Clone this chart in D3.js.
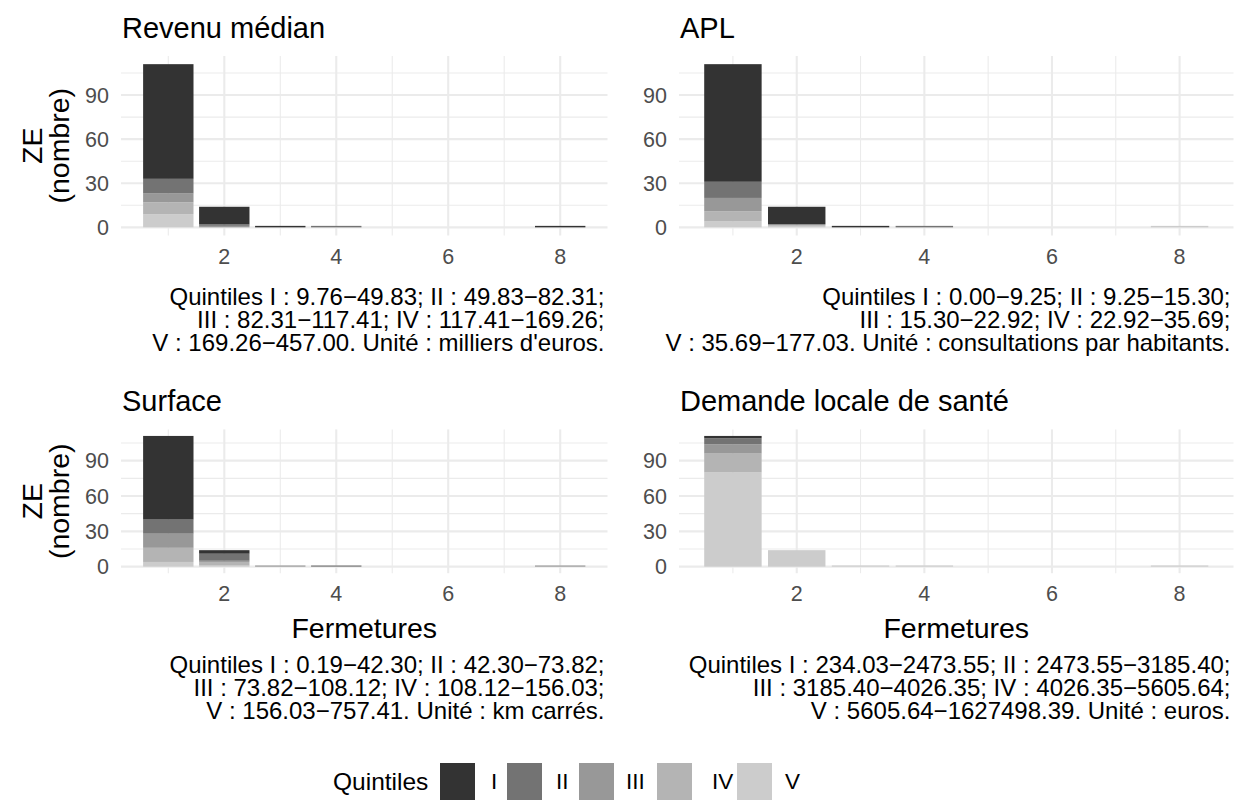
<!DOCTYPE html>
<html>
<head>
<meta charset="utf-8">
<script src="https://cdn.jsdelivr.net/npm/d3@7"></script>
<style>
  html, body { margin: 0; padding: 0; background: #fff; }
  svg { display: block; font-family: "Liberation Sans", Arial, Helvetica, sans-serif; }
</style>
</head>
<body>
<svg id="chart" width="1238" height="803"></svg>
<script>
// Quintile levels and the number of closures (x values) shown
const quintiles = ["I", "II", "III", "IV", "V"];
const fermetures = [1, 2, 3, 4, 8];

// ZE counts: one row per closure count, one column per quintile (I..V)
const revenuMedian = [
  [78, 10, 6, 8, 9],
  [12, 1, 1, 0, 0],
  [1, 0, 0, 0, 0],
  [0, 1, 0, 0, 0],
  [1, 0, 0, 0, 0]
];
const apl = [
  [80, 11, 9, 7, 4],
  [12, 0, 0, 1, 1],
  [1, 0, 0, 0, 0],
  [0, 1, 0, 0, 0],
  [0, 0, 0, 0, 1]
];
const surface = [
  [71, 12, 12, 12, 4],
  [3, 6, 1, 3, 1],
  [0, 0, 1, 0, 0],
  [0, 1, 0, 0, 0],
  [0, 0, 1, 0, 0]
];
const demandeSante = [
  [2, 5, 8, 16, 80],
  [0, 0, 0, 0, 14],
  [0, 0, 0, 0, 1],
  [0, 0, 0, 0, 1],
  [0, 0, 0, 0, 1]
];

const yTicks = [0, 30, 60, 90];
const xTicks = [2, 4, 6, 8];

const titles = ["Revenu médian", "APL", "Surface", "Demande locale de santé"];
const captions = [
  ["Quintiles I : 9.76\u221249.83; II : 49.83\u221282.31;",
   "III : 82.31\u2212117.41; IV : 117.41\u2212169.26;",
   "V : 169.26\u2212457.00. Unité : milliers d'euros."],
  ["Quintiles I : 0.00\u22129.25; II : 9.25\u221215.30;",
   "III : 15.30\u221222.92; IV : 22.92\u221235.69;",
   "V : 35.69\u2212177.03. Unité : consultations par habitants."],
  ["Quintiles I : 0.19\u221242.30; II : 42.30\u221273.82;",
   "III : 73.82\u2212108.12; IV : 108.12\u2212156.03;",
   "V : 156.03\u2212757.41. Unité : km carrés."],
  ["Quintiles I : 234.03\u22122473.55; II : 2473.55\u22123185.40;",
   "III : 3185.40\u22124026.35; IV : 4026.35\u22125605.64;",
   "V : 5605.64\u22121627498.39. Unité : euros."]
];

const fills = ["#333333", "#737373", "#989898", "#B4B4B4", "#CCCCCC"];
const color = d3.scaleOrdinal().domain(quintiles).range(fills);

const svg = d3.select("#chart");

// Panel frames (plot areas)
const cols = [{ x0: 121, x1: 607.5 }, { x0: 679, x1: 1233.5 }];
const rows = [{ y0: 56, y1: 235.5, bottom: false }, { y0: 429.4, y1: 573.2, bottom: true }];
const panelData = [revenuMedian, apl, surface, demandeSante];

const gridCol = "#EBEBEB";
const tickCol = "#4D4D4D";
const fsTitle = 29, fsAxisTitle = 28.5, fsTick = 21.5, fsCaption = 24;

panelData.forEach((rowsData, i) => {
  const c = cols[i % 2], r = rows[Math.floor(i / 2)];

  const records = fermetures.map((f, k) => {
    const o = { f };
    quintiles.forEach((q, j) => { o[q] = rowsData[k][j]; });
    return o;
  });
  // V at the bottom, I on top
  const stack = d3.stack().keys(quintiles.slice().reverse());
  const series = stack(records);

  const maxTot = d3.max(records, d => d3.sum(quintiles, q => d[q]));
  const barW = 0.9;
  const xLo = fermetures[0] - barW / 2, xHi = fermetures[fermetures.length - 1] + barW / 2;
  const xPad = (xHi - xLo) * 0.05, yPad = maxTot * 0.05;

  const x = d3.scaleLinear().domain([xLo - xPad, xHi + xPad]).range([c.x0, c.x1]);
  const y = d3.scaleLinear().domain([-yPad, maxTot + yPad]).range([r.y1, r.y0]);

  const g = svg.append("g");

  // minor grid
  const yMinor = [15, 45, 75, 105].filter(v => v <= maxTot + yPad);
  const xMinor = [1, 3, 5, 7];
  g.selectAll(".ymin").data(yMinor).enter().append("line")
    .attr("x1", c.x0).attr("x2", c.x1).attr("y1", d => y(d)).attr("y2", d => y(d))
    .attr("stroke", gridCol).attr("stroke-width", 1.1);
  g.selectAll(".xmin").data(xMinor).enter().append("line")
    .attr("y1", r.y0).attr("y2", r.y1).attr("x1", d => x(d)).attr("x2", d => x(d))
    .attr("stroke", gridCol).attr("stroke-width", 1.1);
  // major grid
  g.selectAll(".ymaj").data(yTicks).enter().append("line")
    .attr("x1", c.x0).attr("x2", c.x1).attr("y1", d => y(d)).attr("y2", d => y(d))
    .attr("stroke", gridCol).attr("stroke-width", 2.1);
  g.selectAll(".xmaj").data(xTicks).enter().append("line")
    .attr("y1", r.y0).attr("y2", r.y1).attr("x1", d => x(d)).attr("x2", d => x(d))
    .attr("stroke", gridCol).attr("stroke-width", 2.1);

  // stacked bars
  const bw = x(barW) - x(0);
  series.forEach(s => {
    g.selectAll(null).data(s.filter(d => d[1] > d[0])).enter().append("rect")
      .attr("x", d => x(d.data.f) - bw / 2)
      .attr("width", bw)
      .attr("y", d => y(d[1]))
      .attr("height", d => y(d[0]) - y(d[1]))
      .attr("fill", color(s.key));
  });

  // y tick labels
  g.selectAll(".yt").data(yTicks).enter().append("text")
    .attr("x", c.x0 - 12).attr("y", d => y(d)).attr("dy", "0.36em")
    .attr("text-anchor", "end").attr("font-size", fsTick).attr("fill", tickCol)
    .text(d => d);
  // x tick labels
  g.selectAll(".xt").data(xTicks).enter().append("text")
    .attr("x", d => x(d)).attr("y", r.y1 + 28)
    .attr("text-anchor", "middle").attr("font-size", fsTick).attr("fill", tickCol)
    .text(d => d);

  // title
  g.append("text").attr("x", c.x0 + 1).attr("y", r.y0 - 18)
    .attr("font-size", fsTitle).attr("fill", "#000").text(titles[i]);

  // y axis title on left column
  if (i % 2 === 0) {
    const cy = (r.y0 + r.y1) / 2;
    const t = g.append("text").attr("transform", `translate(42,${cy}) rotate(-90)`)
      .attr("text-anchor", "middle").attr("font-size", fsAxisTitle).attr("fill", "#000");
    t.append("tspan").attr("x", 0).attr("dy", 0).text("ZE");
    t.append("tspan").attr("x", 0).attr("dy", 27).text("(nombre)");
  }

  // x axis title on bottom row
  let capTop = r.y1 + 69;
  if (r.bottom) {
    g.append("text").attr("x", (c.x0 + c.x1) / 2).attr("y", r.y1 + 65)
      .attr("text-anchor", "middle").attr("font-size", fsAxisTitle).attr("fill", "#000")
      .text("Fermetures");
    capTop = r.y1 + 100;
  }

  // caption
  g.selectAll(".cap").data(captions[i]).enter().append("text")
    .attr("x", c.x1 - 3).attr("y", (d, k) => capTop + k * 23)
    .attr("text-anchor", "end").attr("font-size", fsCaption).attr("fill", "#000")
    .text(d => d);
});

// legend
const leg = svg.append("g");
leg.append("text").attr("x", 333).attr("y", 790).attr("font-size", 24.5).attr("fill", "#000").text("Quintiles");
const keyX = [440, 507, 579, 657, 737];
const labX = [491, 556, 626, 712, 785];
leg.selectAll("rect").data(quintiles).enter().append("rect")
  .attr("x", (d, k) => keyX[k]).attr("y", 763).attr("width", 35).attr("height", 37)
  .attr("fill", d => color(d));
leg.selectAll(".lab").data(quintiles).enter().append("text")
  .attr("x", (d, k) => labX[k]).attr("y", 789).attr("font-size", 22.5).attr("fill", "#000")
  .text(d => d);
</script>
</body>
</html>
